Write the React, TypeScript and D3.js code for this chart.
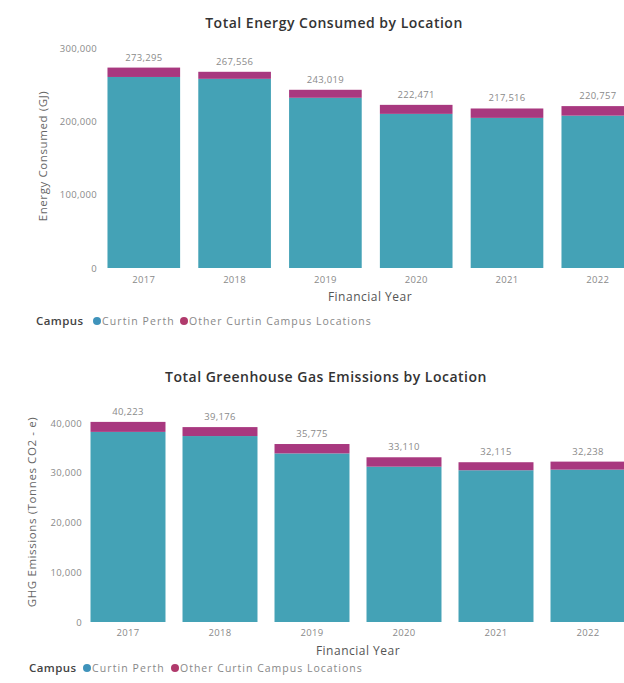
import React from "react";
import * as d3 from "d3";

const years = ["2017", "2018", "2019", "2020", "2021", "2022"];
const energyPerth = [260495, 257956, 232119, 210171, 204716, 207757];
const energyOther = [12800, 9600, 10900, 12300, 12800, 13000];
const energyTicks = [0, 100000, 200000, 300000];
const ghgPerth = [38213, 37376, 33885, 31220, 30505, 30628];
const ghgOther = [2010, 1800, 1890, 1890, 1610, 1610];
const ghgTicks = [0, 10000, 20000, 30000, 40000];
const seriesNames = ["Curtin Perth", "Other Curtin Campus Locations"];

const TEAL = "#44A2B6";
const MAGENTA = "#A8387F";
const DOT_BLUE = "#3F93BB";
const DOT_MAG = "#B03A6C";
const FONT = "'Open Sans', 'DejaVu Sans', sans-serif";

type ChartProps = {
  title: string;
  yTitle: string;
  perth: number[];
  other: number[];
  ticks: number[];
  yDomainMax: number;
  yTop: number;
  yBase: number;
  xRange: [number, number];
  padIn: number;
  titleX: number;
  titleY: number;
  axisLabelX: number;
  yTitleX: number;
  yTitleY: number;
  yearY: number;
  fyX: number;
  fyY: number;
  legendY: number;
  legendX: number;
  dot1: number;
  dot2: number;
};

function Chart(p: ChartProps) {
  const y = d3.scaleLinear().domain([0, p.yDomainMax]).range([p.yBase, p.yTop]);
  const x = d3
    .scaleBand<string>()
    .domain(years)
    .range(p.xRange)
    .paddingInner(p.padIn)
    .paddingOuter(p.padIn / 2);
  const fmt = d3.format(",");
  const stack = d3
    .stack<any>()
    .keys(["perth", "other"])(
      years.map((yr, i) => ({ year: yr, perth: p.perth[i], other: p.other[i] }))
    );
  const colors = [TEAL, MAGENTA];
  const lx = p.legendX;
  const small = { fontSize: 9.5, letterSpacing: 0.3, fill: "#8a8a8a", fontFamily: FONT };
  return (
    <g>
      <text
        x={p.titleX}
        y={p.titleY}
        textAnchor="middle"
        fontSize={14}
        letterSpacing={0.5}
        fontWeight={600}
        fill="#333"
        fontFamily={FONT}
      >
        {p.title}
      </text>
      {p.ticks.map((t) => (
        <text key={t} x={p.axisLabelX} y={y(t) + 3.5} textAnchor="end" {...small}>
          {fmt(t)}
        </text>
      ))}
      <text
        transform={`translate(${p.yTitleX},${p.yTitleY}) rotate(-90)`}
        textAnchor="middle"
        dominantBaseline="middle"
        fontSize={11.5}
        letterSpacing={0.6}
        fill="#666"
        fontFamily={FONT}
      >
        {p.yTitle}
      </text>
      {stack.map((layer, li) =>
        layer.map((d, i) => (
          <rect
            key={`${li}-${i}`}
            x={x(years[i])}
            width={x.bandwidth()}
            y={y(d[1])}
            height={y(d[0]) - y(d[1])}
            fill={colors[li]}
          />
        ))
      )}
      {years.map((yr, i) => (
        <text
          key={`v${yr}`}
          x={(x(yr) as number) + x.bandwidth() / 2}
          y={y(p.perth[i] + p.other[i]) - 7}
          textAnchor="middle"
          {...small}
        >
          {fmt(p.perth[i] + p.other[i])}
        </text>
      ))}
      {years.map((yr) => (
        <text
          key={`x${yr}`}
          x={(x(yr) as number) + x.bandwidth() / 2}
          y={p.yearY}
          textAnchor="middle"
          {...small}
        >
          {yr}
        </text>
      ))}
      <text
        x={p.fyX}
        y={p.fyY}
        textAnchor="middle"
        fontSize={12}
        letterSpacing={0.5}
        fill="#555"
        fontFamily={FONT}
      >
        Financial Year
      </text>
      <g fontFamily={FONT}>
        <text
          x={lx}
          y={p.legendY + 4}
          fontSize={11.5}
          letterSpacing={0.4}
          fontWeight={600}
          fill="#444"
        >
          Campus
        </text>
        <circle cx={lx + p.dot1} cy={p.legendY} r={4} fill={DOT_BLUE} />
        <text
          x={lx + p.dot1 + 5}
          y={p.legendY + 3.5}
          fontSize={10.5}
          letterSpacing={1.1}
          fill="#888"
        >
          {seriesNames[0]}
        </text>
        <circle cx={lx + p.dot2} cy={p.legendY} r={4} fill={DOT_MAG} />
        <text
          x={lx + p.dot2 + 5}
          y={p.legendY + 3.5}
          fontSize={10.5}
          letterSpacing={1.0}
          fill="#888"
        >
          {seriesNames[1]}
        </text>
      </g>
    </g>
  );
}

export default function App() {
  return (
    <svg
      width={624}
      height={683}
      style={{ position: "absolute", left: 0, top: 0, background: "#fff" }}
    >
      <rect width={624} height={683} fill="#fff" />
      <Chart
        title="Total Energy Consumed by Location"
        yTitle="Energy Consumed (GJ)"
        perth={energyPerth}
        other={energyOther}
        ticks={energyTicks}
        yDomainMax={300000}
        yTop={48}
        yBase={268}
        xRange={[98.4, 643.2]}
        padIn={0.2}
        titleX={334}
        titleY={28}
        axisLabelX={97}
        yTitleX={44}
        yTitleY={156}
        yearY={283}
        fyX={370}
        fyY={301}
        legendY={321}
        legendX={36}
        dot1={61}
        dot2={148}
      />
      <Chart
        title="Total Greenhouse Gas Emissions by Location"
        yTitle="GHG Emissions (Tonnes CO2 - e)"
        perth={ghgPerth}
        other={ghgOther}
        ticks={ghgTicks}
        yDomainMax={40000}
        yTop={423}
        yBase={622}
        xRange={[82, 634]}
        padIn={0.185}
        titleX={326}
        titleY={382}
        axisLabelX={82}
        yTitleX={33}
        yTitleY={512}
        yearY={636}
        fyX={358}
        fyY={655}
        legendY={668}
        legendX={29}
        dot1={58}
        dot2={146}
      />
    </svg>
  );
}
